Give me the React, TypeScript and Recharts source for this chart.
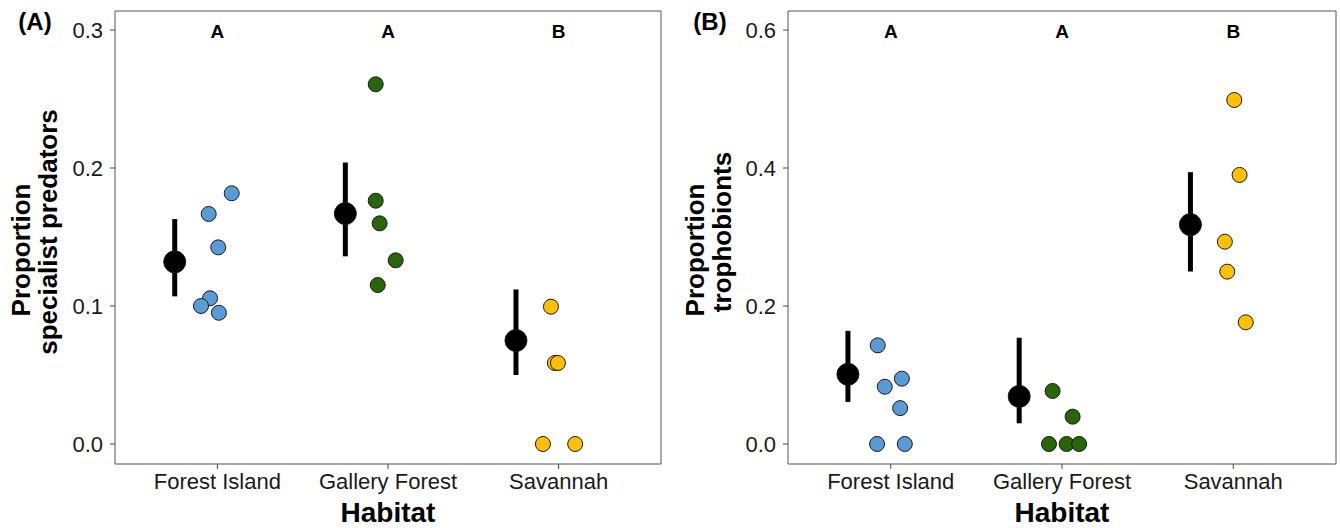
import React from "react";
import { ScatterChart, Scatter, XAxis, YAxis, ErrorBar, ReferenceArea, Label } from "recharts";

const categories = ["Forest Island", "Gallery Forest", "Savannah"];
const letters = ["A", "A", "B"];

// Panel A: proportion specialist predators
const predForestIsland = [0.1817, 0.1667, 0.1425, 0.1056, 0.1, 0.0951];
const predForestIslandJitter = [0.084, -0.051, 0.005, -0.043, -0.096, 0.009];
const predGallery = [0.2607, 0.1763, 0.1599, 0.1331, 0.1152];
const predGalleryJitter = [-0.072, -0.072, -0.049, 0.045, -0.06];
const predSavannah = [0.0995, 0.0587, 0.0587, 0.0, 0.0];
const predSavannahJitter = [-0.045, -0.022, -0.004, -0.092, 0.097];
const predMeans = [0.132, 0.167, 0.075];
const predLower = [0.107, 0.136, 0.05];
const predUpper = [0.163, 0.204, 0.112];

// Panel B: proportion trophobionts
const trophForestIsland = [0.143, 0.0947, 0.083, 0.052, 0.0, 0.0];
const trophForestIslandJitter = [-0.076, 0.065, -0.035, 0.055, -0.08, 0.082];
const trophGallery = [0.0768, 0.0396, 0.0, 0.0, 0.0];
const trophGalleryJitter = [-0.055, 0.062, -0.076, 0.027, 0.1];
const trophSavannah = [0.4986, 0.39, 0.2932, 0.2498, 0.1764];
const trophSavannahJitter = [0.006, 0.037, -0.049, -0.035, 0.073];
const trophMeans = [0.101, 0.069, 0.318];
const trophLower = [0.061, 0.03, 0.25];
const trophUpper = [0.164, 0.154, 0.394];

const predTicks = [0, 0.1, 0.2, 0.3];
const trophTicks = [0, 0.2, 0.4, 0.6];

const meanOffset = -0.25;
const COLORS = ["#5B9BD5", "#2A650B", "#FFC000"];
const FONT = "'Liberation Sans', Arial, sans-serif";

const mk = (cat: number, vals: number[], jit: number[]) =>
  vals.map((v, i) => ({ x: cat + jit[i], y: v }));

const mkMeans = (means: number[], lo: number[], hi: number[]) =>
  means.map((m, i) => ({ x: i + 1 + meanOffset, y: m, err: [m - lo[i], hi[i] - m] }));

const dot = (color: string, r: number) => (props: any) => (
  <circle cx={props.cx} cy={props.cy} r={r} fill={color} stroke="#1a1a1a" strokeWidth={1} />
);

const letterShape = (props: any) => (
  <text
    x={props.cx}
    y={props.cy + 8}
    textAnchor="middle"
    fontFamily={FONT}
    fontWeight="bold"
    fontSize={19}
    fill="#000"
  >
    {props.payload.label}
  </text>
);

type PanelProps = {
  tag: string;
  line1: string;
  line2: string;
  groups: { x: number; y: number }[][];
  means: { x: number; y: number; err: number[] }[];
  ticks: number[];
  domain: [number, number];
  yAxisWidth: number;
  rightMargin: number;
  line1X: number;
  line2X: number;
  tagX: number;
};

function Panel(p: PanelProps) {
  const letterData = letters.map((l, i) => ({ x: i + 1, y: p.ticks[p.ticks.length - 1], label: l }));
  return (
    <ScatterChart
      width={670}
      height={528}
      margin={{ top: 11, right: p.rightMargin, bottom: 0, left: 0 }}
      style={{ fontFamily: FONT }}
    >
      <XAxis
        type="number"
        dataKey="x"
        domain={[0.4, 3.6]}
        ticks={[1, 2, 3]}
        tickFormatter={(v: number) => categories[Math.round(v) - 1]}
        allowDataOverflow
        height={64}
        axisLine={false}
        tickLine={{ stroke: "#444" }}
        tickSize={5}
        tickMargin={4}
        tick={{ fill: "#1a1a1a", fontSize: 22, fontFamily: FONT }}
      >
        <Label
          content={(lp: any) => {
            const vb = lp.viewBox;
            return (
              <text
                x={vb.x + vb.width / 2}
                y={vb.y + 58}
                textAnchor="middle"
                fontFamily={FONT}
                fontWeight="bold"
                fontSize={28}
                fill="#000"
              >
                Habitat
              </text>
            );
          }}
        />
      </XAxis>
      <YAxis
        type="number"
        dataKey="y"
        domain={p.domain}
        ticks={p.ticks}
        allowDataOverflow
        width={p.yAxisWidth}
        axisLine={false}
        tickLine={{ stroke: "#444" }}
        tickSize={5}
        tickMargin={7}
        tickFormatter={(v: number) => v.toFixed(1)}
        tick={{ fill: "#1a1a1a", fontSize: 22, fontFamily: FONT }}
      >
        <Label
          content={() => (
            <g>
              <text
                x={p.tagX}
                y={30}
                textAnchor="middle"
                fontFamily={FONT}
                fontWeight="bold"
                fontSize={24}
                fill="#000"
              >
                {p.tag}
              </text>
              <text
                transform={`translate(${p.line1X},250) rotate(-90)`}
                textAnchor="middle"
                fontFamily={FONT}
                fontWeight="bold"
                fontSize={26}
                fill="#000"
              >
                {p.line1}
              </text>
              <text
                transform={`translate(${p.line2X},232) rotate(-90)`}
                textAnchor="middle"
                fontFamily={FONT}
                fontWeight="bold"
                fontSize={26}
                fill="#000"
              >
                {p.line2}
              </text>
            </g>
          )}
        />
      </YAxis>
      <ReferenceArea
        x1={0.4}
        x2={3.6}
        y1={p.domain[0]}
        y2={p.domain[1]}
        fill="none"
        stroke="#555"
        strokeWidth={1}
        ifOverflow="visible"
      />
      {p.groups.map((g, i) => (
        <Scatter key={i} data={g} isAnimationActive={false} shape={dot(COLORS[i], 7.5)} />
      ))}
      <Scatter data={p.means} isAnimationActive={false} shape={dot("#000", 11)}>
        <ErrorBar dataKey="err" direction="y" width={0} strokeWidth={5} stroke="#000" />
      </Scatter>
      <Scatter data={letterData} isAnimationActive={false} shape={letterShape} />
    </ScatterChart>
  );
}

export default function App() {
  const groupsA = [
    mk(1, predForestIsland, predForestIslandJitter),
    mk(2, predGallery, predGalleryJitter),
    mk(3, predSavannah, predSavannahJitter),
  ];
  const groupsB = [
    mk(1, trophForestIsland, trophForestIslandJitter),
    mk(2, trophGallery, trophGalleryJitter),
    mk(3, trophSavannah, trophSavannahJitter),
  ];
  return (
    <div style={{ position: "absolute", left: 0, top: 0, width: 1340, height: 528, background: "#fff" }}>
      <div style={{ position: "absolute", left: 0, top: 0 }}>
        <Panel
          tag="(A)"
          line1="Proportion"
          line2="specialist predators"
          groups={groupsA}
          means={mkMeans(predMeans, predLower, predUpper)}
          ticks={predTicks}
          domain={[-0.0145, 0.3138]}
          yAxisWidth={115}
          rightMargin={9}
          line1X={30}
          line2X={57}
          tagX={35}
        />
      </div>
      <div style={{ position: "absolute", left: 670, top: 0 }}>
        <Panel
          tag="(B)"
          line1="Proportion"
          line2="trophobionts"
          groups={groupsB}
          means={mkMeans(trophMeans, trophLower, trophUpper)}
          ticks={trophTicks}
          domain={[-0.029, 0.6276]}
          yAxisWidth={118}
          rightMargin={4}
          line1X={34}
          line2X={61}
          tagX={40}
        />
      </div>
    </div>
  );
}
